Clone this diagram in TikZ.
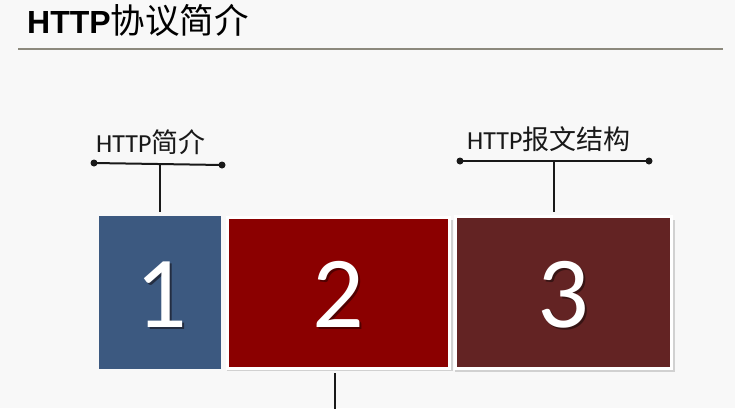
\documentclass[tikz,border=0pt]{standalone}
\usepackage{fontspec}
\setmainfont{Carlito}
\newfontfamily\cjk{Noto Sans CJK SC}
\newfontfamily\titlelat{Liberation Sans}
\definecolor{bg}{RGB}{248,248,248}
\definecolor{rulecol}{RGB}{140,137,125}
\definecolor{cblue}{RGB}{60,89,128}
\definecolor{cred}{RGB}{139,0,0}
\definecolor{cbrown}{RGB}{99,35,35}
\definecolor{ink}{RGB}{25,25,25}
\definecolor{sh1}{RGB}{35,45,65}
\definecolor{sh2}{RGB}{80,0,0}
\definecolor{sh3}{RGB}{55,20,20}
\newcommand{\shadnum}[2]{\makebox[0pt][l]{\kern2.2pt\raisebox{-2.2pt}{\textcolor{#1}{#2}}}#2}
\begin{document}
\begin{tikzpicture}[x=1pt,y=-1pt,
  tile/.style={draw=none,inner sep=0pt,outer sep=0pt},
  framed/.style={draw=white,line width=3pt},
  conn/.style={line width=2pt,draw=ink},
  dotend/.style={circle,fill=ink,inner sep=0pt,minimum size=7pt},
  numtxt/.style={text=white,font=\fontsize{102}{102}\selectfont,anchor=base,inner sep=0pt},
  lbl/.style={text=ink,anchor=base west,inner sep=0pt}]
\useasboundingbox (0,0) rectangle (735,408);
\fill[bg] (0,0) rectangle (735,408);
% title
\node[anchor=base west,inner sep=0pt,text=black] (title) at (27,33)
  {{\titlelat\bfseries\fontsize{32}{32}\selectfont HTTP}{\cjk\fontsize{34.5}{34.5}\selectfont 协议简介}};
\coordinate (ruleL) at (18,48.5);
\coordinate (ruleR) at (723,48.5);
\draw[rulecol,line width=2pt] (ruleL) -- (ruleR);
% shadows of framed tiles
\fill[black!18] (227,219.5) rectangle (452.5,371);
\fill[black!18] (455,219.5) rectangle (674.5,371.5);
% tiles
\node[tile,fill=cblue,minimum width=122pt,minimum height=153pt] (box1) at (160,292.5) {};
\node[tile,framed,fill=cred,minimum width=222pt,minimum height=151pt] (box2) at (338,292.5) {};
\node[tile,framed,fill=cbrown,minimum width=216pt,minimum height=152pt] (box3) at (563,292.5) {};
% numbers
\node[numtxt] (n1) at (161,327) {\shadnum{sh1}{1}};
\node[numtxt] (n2) at (338,327) {\shadnum{sh2}{2}};
\node[numtxt] (n3) at (563,327) {\shadnum{sh3}{3}};
% label 1
\node[lbl] (lab1) at (96,152) {{\fontsize{26}{26}\selectfont HTTP}{\cjk\fontsize{27}{27}\selectfont 简介}};
\node[dotend] (d1a) at (94,163) {};
\node[dotend] (d1b) at (222,165) {};
\draw[conn] (d1a.center) -- (d1b.center);
\coordinate (m1) at (160,164);
\coordinate (t1) at (160,212);
\draw[conn] (m1) -- (t1);
% label 3
\node[lbl] (lab3) at (467,149) {{\fontsize{26}{26}\selectfont HTTP}{\cjk\fontsize{27}{27}\selectfont 报文结构}};
\node[dotend] (d3a) at (460,161) {};
\node[dotend] (d3b) at (649,161) {};
\draw[conn] (d3a.center) -- (d3b.center);
\coordinate (m3) at (553.5,161);
\coordinate (t3) at (553.5,212);
\draw[conn] (m3) -- (t3);
% line below box 2
\coordinate (b2) at (335,373);
\coordinate (b2end) at (335,410);
\draw[conn] (b2) -- (b2end);
\end{tikzpicture}
\end{document}
